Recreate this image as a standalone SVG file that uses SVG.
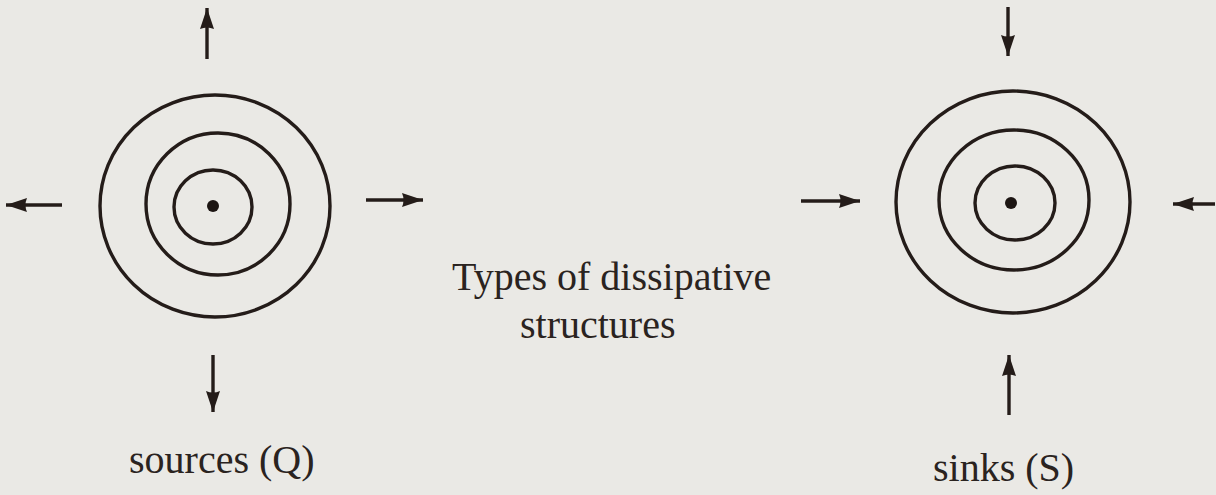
<svg xmlns="http://www.w3.org/2000/svg" width="1216" height="495" viewBox="0 0 1216 495">
<defs>
<style>
.ring{fill:none;stroke:#241c19;stroke-width:3.4}
.dot{fill:#1c1512}
.arr{fill:none;stroke:#241c19;stroke-width:3.4;marker-end:url(#ah)}
.lbl{font-family:"Liberation Serif","Times New Roman",serif;font-size:40px;fill:#2a2320}
</style>
<marker id="ah" markerUnits="userSpaceOnUse" markerWidth="22" markerHeight="16" refX="21" refY="8" orient="auto" viewBox="0 0 22 16">
<path d="M0,1 Q3,8 0,15 L21,8 Z" fill="#241c19"/>
</marker>
</defs>
<rect width="1216" height="495" fill="#eae9e5"/>
<g id="source">
<ellipse class="ring" cx="215" cy="206" rx="115" ry="111"/>
<ellipse class="ring" cx="218" cy="204" rx="72" ry="71"/>
<ellipse class="ring" cx="213" cy="207" rx="39" ry="37"/>
<circle class="dot" cx="213" cy="206" r="6"/>
</g>
<g id="sink">
<ellipse class="ring" cx="1013" cy="202" rx="117" ry="111"/>
<ellipse class="ring" cx="1014" cy="200" rx="75" ry="70"/>
<ellipse class="ring" cx="1015" cy="203" rx="40" ry="37"/>
<circle class="dot" cx="1011" cy="203" r="6"/>
</g>
<g id="connectors">
<line class="arr" x1="207" y1="59" x2="207" y2="8"/>
<line class="arr" x1="62" y1="205" x2="6" y2="205"/>
<line class="arr" x1="366" y1="200" x2="423" y2="200"/>
<line class="arr" x1="213" y1="355" x2="213" y2="412"/>
<line class="arr" x1="1008" y1="7" x2="1008" y2="56"/>
<line class="arr" x1="1009" y1="415" x2="1009" y2="355"/>
<line class="arr" x1="801" y1="201" x2="860" y2="201"/>
<line class="arr" x1="1215" y1="204" x2="1173" y2="204"/>
</g>
<g id="labels">
<text class="lbl" x="129" y="473">sources (Q)</text>
<text class="lbl" x="933" y="481">sinks (S)</text>
<text class="lbl" x="452" y="290">Types of dissipative</text>
<text class="lbl" x="520" y="338">structures</text>
</g>
</svg>
